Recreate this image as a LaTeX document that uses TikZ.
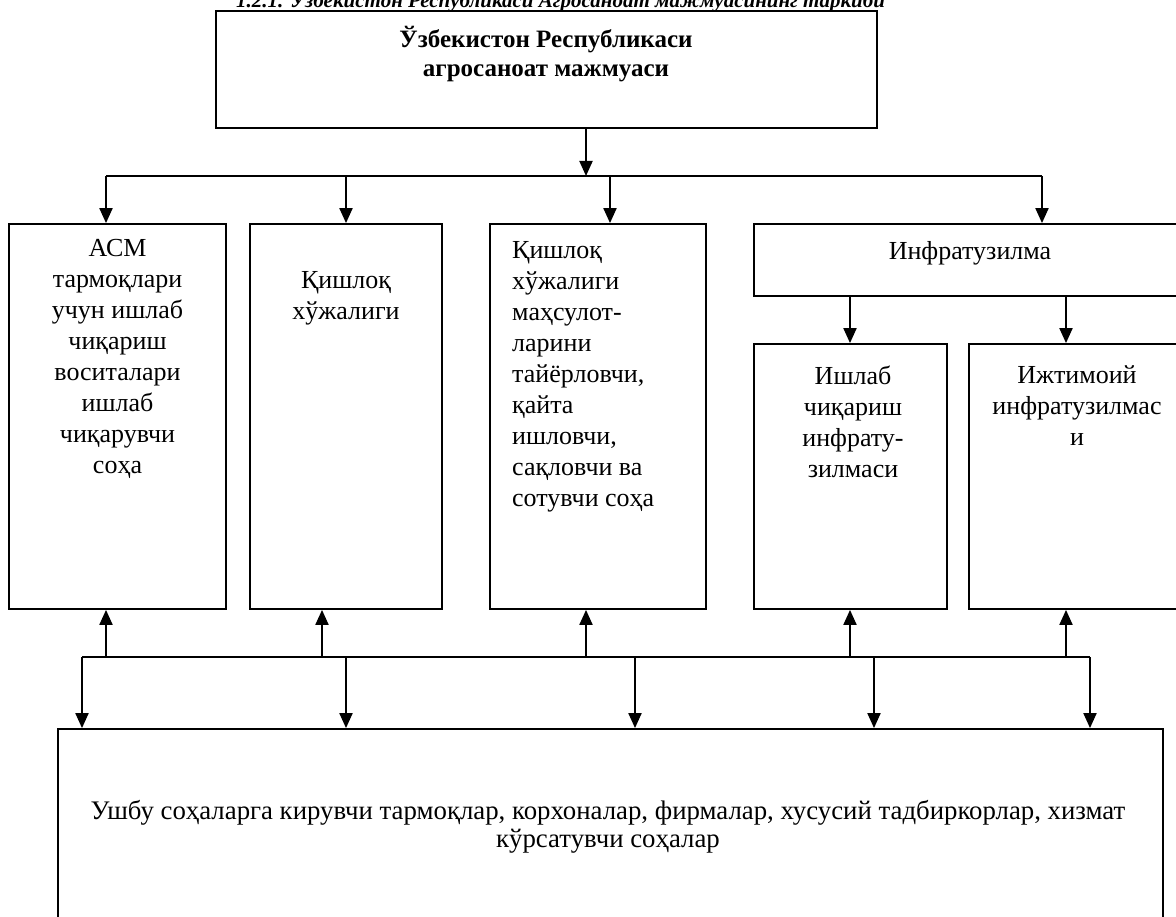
\documentclass[tikz,border=0pt]{standalone}
\usepackage{fontspec}
\setmainfont{Liberation Serif}
\usetikzlibrary{arrows.meta}
\begin{document}
\begin{tikzpicture}[x=1pt,y=-1pt,
  box/.style={draw, line width=1.8pt, rectangle, inner sep=0pt},
  txt/.style={font=\fontsize{26}{31}\selectfont, align=center, inner sep=0pt},
  arr/.style={-{Triangle[width=13pt,length=15pt]}, line width=2pt},
  bus/.style={line width=2pt}]
\clip (0,0) rectangle (1176,917);
\fill[white] (0,0) rectangle (1176,917);
% title (cut off at top)
\node[anchor=base west, inner sep=0pt, font=\fontsize{21}{25}\selectfont\bfseries\itshape] (title) at (236,7.5) {1.2.1. Ўзбекистон Республикаси Агросаноат мажмуасининг таркиби};
% boxes
\node[box, minimum width=661pt, minimum height=117pt] (top) at (546.5,69.5) {};
\node[box, minimum width=217pt, minimum height=385pt] (b1) at (117.5,416.5) {};
\node[box, minimum width=192pt, minimum height=385pt] (b2) at (346,416.5) {};
\node[box, minimum width=216pt, minimum height=385pt] (b3) at (598,416.5) {};
\node[box, minimum width=436pt, minimum height=72pt] (infra) at (972,260) {};
\node[box, minimum width=193pt, minimum height=265pt] (b4) at (850.5,476.5) {};
\node[box, minimum width=221pt, minimum height=265pt] (b5) at (1079.5,476.5) {};
\node[box, minimum width=1105pt, minimum height=211pt] (bot) at (610.5,834.5) {};
% texts
\node[txt, font=\fontsize{25}{29}\selectfont\bfseries] (ttop) at (546,54) {Ўзбекистон Республикаси\\агросаноат мажмуаси};
\node[txt] (t1) at (117.5,359) {АСМ\\тармоқлари\\учун ишлаб\\чиқариш\\воситалари\\ишлаб\\чиқарувчи\\соҳа};
\node[txt] (t2) at (346,298) {Қишлоқ\\хўжалиги};
\node[txt, align=left, anchor=west] (t3) at (512,377) {Қишлоқ\\хўжалиги\\маҳсулот-\\ларини\\тайёрловчи,\\қайта\\ишловчи,\\сақловчи ва\\сотувчи соҳа};
\node[txt] (tinf) at (970,253) {Инфратузилма};
\node[txt] (t4) at (853,422) {Ишлаб\\чиқариш\\инфрату-\\зилмаси};
\node[txt] (t5) at (1077,406) {Ижтимоий\\инфратузилмас\\и};
\node[txt, font=\fontsize{26.8}{28}\selectfont] (tbot) at (608,827) {Ушбу соҳаларга кирувчи тармоқлар, корхоналар, фирмалар, хусусий тадбиркорлар, хизмат\\кўрсатувчи соҳалар};
% upper bus
\coordinate (m) at (586,176);
\coordinate (a1) at (106,176);
\coordinate (a2) at (346,176);
\coordinate (a3) at (610,176);
\coordinate (a4) at (1042,176);
\draw[arr] (m |- top.south) -- (m);
\draw[bus] (a1) -- (a4);
\draw[arr] (a1) -- (a1 |- b1.north);
\draw[arr] (a2) -- (a2 |- b2.north);
\draw[arr] (a3) -- (a3 |- b3.north);
\draw[arr] (a4) -- (a4 |- infra.north);
% infrastructure
\coordinate (i1) at (850,296);
\coordinate (i2) at (1066,296);
\draw[arr] (i1 |- infra.south) -- (i1 |- b4.north);
\draw[arr] (i2 |- infra.south) -- (i2 |- b5.north);
% lower bus
\coordinate (u1) at (106,657);
\coordinate (u2) at (322,657);
\coordinate (u3) at (586,657);
\coordinate (u4) at (850,657);
\coordinate (u5) at (1066,657);
\coordinate (d1) at (82,657);
\coordinate (d2) at (346,657);
\coordinate (d3) at (635,657);
\coordinate (d4) at (874,657);
\coordinate (d5) at (1090,657);
\draw[bus] (d1) -- (d5);
\draw[arr] (u1) -- (u1 |- b1.south);
\draw[arr] (u2) -- (u2 |- b2.south);
\draw[arr] (u3) -- (u3 |- b3.south);
\draw[arr] (u4) -- (u4 |- b4.south);
\draw[arr] (u5) -- (u5 |- b5.south);
\draw[arr] (d1) -- (d1 |- bot.north);
\draw[arr] (d2) -- (d2 |- bot.north);
\draw[arr] (d3) -- (d3 |- bot.north);
\draw[arr] (d4) -- (d4 |- bot.north);
\draw[arr] (d5) -- (d5 |- bot.north);
\end{tikzpicture}
\end{document}
